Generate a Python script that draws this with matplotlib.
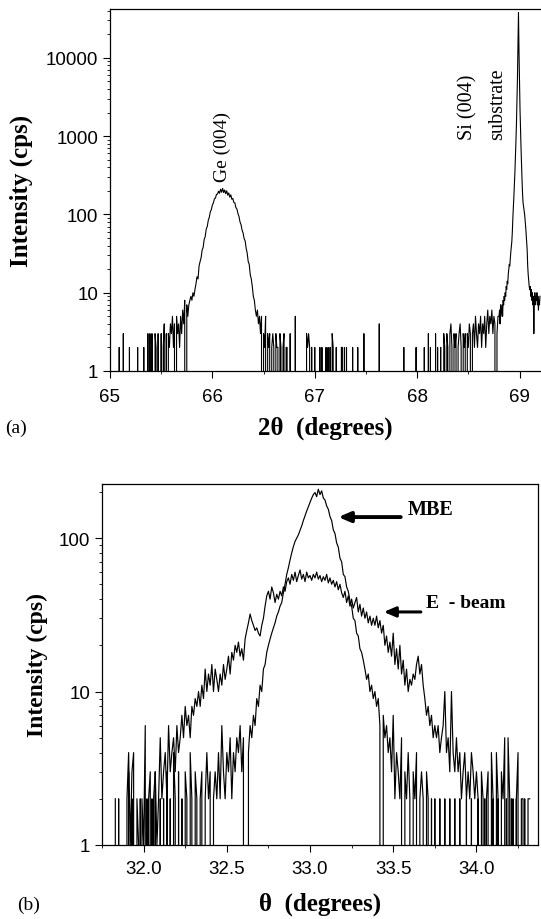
import numpy as np
import matplotlib
matplotlib.use("Agg")
import matplotlib.pyplot as plt
from matplotlib.ticker import LogLocator, NullFormatter, MultipleLocator

# ---------------- panel (a): 2theta scan, counts per step ----------------
a_start, a_step = 65.00, 0.01          # 65.00 ... 68.79
a_counts = [
    0, 0, 0, 0, 0, 0, 0, 0, 0, 2,            # 65.00
    0, 0, 0, 3, 0, 0, 0, 0, 0, 2,            # 65.10
    0, 0, 0, 0, 0, 0, 0, 2, 0, 0,            # 65.20
    0, 0, 0, 2, 0, 0, 0, 3, 0, 3,            # 65.30
    0, 3, 0, 0, 3, 2, 0, 3, 0, 0,            # 65.40
    3, 0, 2, 4, 0, 3, 0, 3, 2, 4,            # 65.50
    3, 5, 2, 4, 0, 5, 3, 4, 2, 5,            # 65.60
    3, 6, 4, 8, 0, 7, 5, 7, 8, 9,            # 65.70
    8, 10, 9, 11, 13, 16, 15, 22, 25, 28,    # 65.80
    35, 38, 48, 52, 65, 70, 84, 92, 108, 115,   # 65.90
    132, 140, 158, 162, 180, 182, 198, 186, 210, 192,  # 66.00
    215, 190, 205, 184, 200, 176, 188, 166, 178, 156,  # 66.10
    160, 142, 140, 122, 117, 102, 94, 80, 74, 63,      # 66.20
    58, 49, 46, 37, 32, 25, 23, 17, 15, 12,  # 66.30
    9, 8, 6, 5, 6, 4, 5, 3, 5, 0,            # 66.40
    3, 2, 5, 0, 3, 2, 3, 0, 2, 3,            # 66.50
    2, 0, 3, 2, 2, 0, 3, 2, 0, 2,            # 66.60
    3, 0, 2, 2, 0, 0, 3, 0, 0, 0,            # 66.70
    0, 5, 0, 0, 0, 0, 0, 0, 0, 0,            # 66.80
    0, 0, 3, 2, 3, 2, 0, 2, 0, 0,            # 66.90
    2, 0, 0, 0, 0, 2, 0, 2, 0, 0,            # 67.00
    0, 2, 0, 2, 0, 2, 0, 3, 2, 0,            # 67.10
    0, 2, 0, 0, 0, 0, 2, 2, 0, 2,            # 67.20
    0, 2, 0, 0, 0, 0, 0, 2, 0, 0,            # 67.30
    0, 0, 2, 0, 0, 0, 0, 0, 3, 0,            # 67.40
    0, 0, 0, 0, 0, 0, 0, 0, 0, 0,            # 67.50
    0, 0, 0, 4, 0, 0, 0, 0, 0, 0,            # 67.60
    0, 0, 0, 0, 0, 0, 0, 0, 0, 0,            # 67.70
    0, 0, 0, 0, 0, 0, 0, 2, 0, 0,            # 67.80
    0, 0, 0, 0, 0, 0, 0, 0, 0, 2,            # 67.90
    0, 0, 0, 0, 0, 0, 0, 2, 0, 0,            # 68.00
    0, 3, 0, 2, 0, 0, 0, 0, 3, 0,            # 68.10
    2, 0, 0, 2, 0, 0, 3, 2, 0, 3,            # 68.20
    2, 0, 3, 4, 2, 0, 3, 2, 3, 0,            # 68.30
    2, 3, 4, 2, 0, 3, 2, 3, 0, 3,            # 68.40
    2, 4, 3, 0, 3, 4, 2, 5, 3, 2,            # 68.50
    4, 3, 5, 2, 4, 3, 5, 2, 4, 6,            # 68.60
    3, 5, 4, 6, 3, 5, 4, 0, 3, 5,            # 68.70
]
# Si (004) substrate peak scanned with a finer step
si_start, si_step = 68.80, 0.005       # 68.800 ... 69.200
si_counts = [
    5, 6, 4, 7, 5, 6, 7, 5, 8, 7,                       # 68.800
    9, 8, 10, 9, 12, 11, 14, 13, 17, 20,                # 68.850
    23, 22, 27, 33, 38, 45, 60, 90, 120, 170,           # 68.900
    240, 340, 520, 850, 1400, 2600, 5500, 14000, 38000, 12000,  # 68.950
    5000, 2200, 1200, 700, 420, 270, 180, 140, 125, 110,        # 69.000
    100, 85, 70, 55, 45, 35, 22, 17, 14, 12,            # 69.050
    11, 12, 9, 11, 8, 10, 7, 9, 3, 8,                   # 69.100
    10, 7, 9, 8, 10, 7, 9, 6, 8, 7,                     # 69.150
    9,                                                  # 69.200
]

# ---------------- panel (b): theta scans ----------------
b_start, b_step = 31.83, 0.01          # 31.83 ... 34.32
ebeam_counts = [
    2, 0, 2, 0, 0, 0, 0, 2, 4, 1,
    3, 4, 0, 2, 1, 0, 2, 1, 6, 0,
    2, 3, 0, 2, 3, 1, 2, 5, 2, 3,
    4, 2, 6, 3, 4, 5, 3, 6, 4, 5,
    7, 5, 8, 6, 7, 5, 8, 7, 9, 8,
    10, 8, 11, 9, 14, 10, 13, 11, 15, 10,
    14, 12, 10, 13, 11, 15, 12, 14, 17, 13,
    18, 16, 20, 18, 21, 17, 19, 16, 22, 25,
    28, 32, 29, 27, 25, 26, 24, 23, 27, 30,
    36, 42, 45, 40, 48, 44, 38, 43, 40, 45,
    42, 48, 45, 52, 55, 50, 58, 53, 60, 52,
    57, 62, 54, 58, 52, 60, 55, 57, 53, 58,
    55, 60, 54, 57, 52, 56, 53, 58, 51, 55,
    50, 53, 48, 52, 46, 50, 44, 41, 45, 38,
    42, 36, 40, 35, 38, 41, 33, 37, 31, 35,
    30, 33, 28, 31, 27, 30, 27, 31, 26, 29,
    24, 27, 20, 23, 18, 21, 17, 24, 15, 19,
    14, 20, 13, 16, 11, 14, 10, 12, 11, 13,
    12, 15, 17, 13, 15, 11, 9, 7, 8, 6,
    7, 5, 6, 5, 6, 4, 5, 6, 10, 4,
    5, 3, 10, 4, 3, 5, 3, 4, 2, 3,
    4, 2, 3, 2, 4, 3, 2, 3, 2, 0,
    3, 2, 0, 2, 3, 0, 4, 2, 0, 4,
    2, 0, 3, 2, 5, 0, 5, 2, 0, 2,
    0, 2, 4, 0, 2, 2, 0, 0, 2, 2,
]
mbe_counts = [
    0, 0, 0, 0, 0, 0, 0, 0, 3, 0,
    2, 0, 0, 0, 0, 2, 0, 0, 0, 2,
    0, 0, 2, 0, 3, 0, 0, 2, 0, 2,
    0, 3, 0, 2, 0, 4, 2, 0, 3, 0,
    2, 0, 3, 2, 0, 4, 2, 0, 3, 2,
    0, 2, 3, 0, 2, 4, 2, 3, 0, 2,
    3, 2, 4, 2, 6, 3, 2, 4, 3, 5,
    2, 4, 3, 5, 4, 6, 3, 5, 0, 0,
    4, 6, 5, 7, 6, 9, 8, 11, 10, 14,
    15, 18, 20, 22, 24, 26, 28, 31, 33, 36,
    38, 44, 50, 58, 64, 72, 80, 88, 95, 100,
    105, 112, 120, 130, 140, 150, 160, 170, 182, 192,
    198, 186, 208, 192, 203, 182, 177, 162, 154, 138,
    130, 113, 107, 93, 87, 74, 70, 58, 56, 48,
    45, 39, 36, 30, 29, 24, 23, 19, 18, 16,
    14, 12, 13, 10, 11, 9, 10, 8, 9, 6,
    0, 7, 5, 6, 4, 5, 3, 7, 2, 4,
    3, 2, 5, 0, 3, 2, 4, 2, 0, 3,
    2, 4, 0, 2, 3, 2, 0, 3, 2, 0,
    2, 0, 2, 0, 0, 2, 0, 0, 2, 0,
    0, 2, 0, 0, 2, 0, 0, 2, 0, 0,
    0, 2, 0, 0, 2, 0, 0, 0, 2, 0,
    0, 0, 2, 0, 0, 0, 0, 2, 0, 0,
    2, 0, 0, 0, 0, 2, 0, 0, 2, 0,
    0, 2, 0, 0, 0, 0, 2, 0, 0, 0,
]

a_yticks = [1, 10, 100, 1000, 10000]
b_yticks = [1, 10, 100]

# scan positions
x_a = np.concatenate([a_start + a_step * np.arange(len(a_counts)),
                      si_start + si_step * np.arange(len(si_counts))])
y_a = np.array(a_counts + si_counts, dtype=float)
x_b = b_start + b_step * np.arange(len(ebeam_counts))

plt.rcParams["font.family"] = "Liberation Sans"
SERIF = "Liberation Serif"
W, H = 541, 920

fig = plt.figure(figsize=(W / 100, H / 100), dpi=100)
ax1 = fig.add_axes([110 / W, 1 - 372 / H, 431 / W, 362 / H])
ax2 = fig.add_axes([102 / W, 1 - 846 / H, 436 / W, 361 / H])


def style(ax, yticks, xpad):
    ax.set_yscale("log", nonpositive="clip")
    ax.set_yticks(yticks, labels=[str(v) for v in yticks])
    ax.yaxis.set_minor_locator(LogLocator(base=10, subs=np.arange(2, 10)))
    ax.yaxis.set_minor_formatter(NullFormatter())
    ax.tick_params(which="major", direction="out", length=5, width=0.8,
                   labelsize=13.5, top=False, right=False)
    ax.tick_params(which="minor", direction="out", length=2.5, width=0.6,
                   top=False, right=False)
    ax.tick_params(axis="x", which="major", pad=xpad)
    for s in ax.spines.values():
        s.set_linewidth(0.9)


# ---- (a) ----
ax1.plot(x_a, y_a, color="black", lw=0.8)
style(ax1, a_yticks, 7)
ax1.set_xlim(65, 69.21)
ax1.set_ylim(1, 42000)
ax1.xaxis.set_major_locator(MultipleLocator(1))
ax1.xaxis.set_minor_locator(MultipleLocator(0.5))
ax1.spines["right"].set_visible(False)
ax1.set_ylabel("Intensity (cps)", family=SERIF, fontweight="bold", fontsize=18)
ax1.yaxis.set_label_coords(-0.179, 0.5)
ax1.set_xlabel("2θ  (degrees)", family=SERIF, fontweight="bold", fontsize=18)
ax1.xaxis.set_label_coords(0.5, -0.122)
ax1.text(66.095, 267, "Ge (004)", rotation=90, ha="center", va="bottom",
         family=SERIF, fontsize=14)
ax1.text(68.50, 918, "Si (004)", rotation=90, ha="center", va="bottom",
         family=SERIF, fontsize=14.5)
ax1.text(68.79, 918, "substrate", rotation=90, ha="center", va="bottom",
         family=SERIF, fontsize=14.5)
fig.text(5 / W, 1 - 428 / H, "(a)", family=SERIF, fontsize=14, va="center")

# ---- (b) ----
ax2.plot(x_b, ebeam_counts, color="black", lw=0.85)
ax2.plot(x_b, mbe_counts, color="black", lw=0.85)
style(ax2, b_yticks, 5.5)
ax2.set_xlim(31.75, 34.37)
ax2.set_ylim(1, 225)
ax2.xaxis.set_major_locator(MultipleLocator(0.5))
ax2.xaxis.set_minor_locator(MultipleLocator(0.25))
ax2.xaxis.set_major_formatter(matplotlib.ticker.FormatStrFormatter("%.1f"))
ax2.set_ylabel("Intensity (cps)", family=SERIF, fontweight="bold", fontsize=17)
ax2.yaxis.set_label_coords(-0.124, 0.5)
ax2.set_xlabel("θ  (degrees)", family=SERIF, fontweight="bold", fontsize=18)
ax2.xaxis.set_label_coords(0.5, -0.128)

ax2.annotate("", xy=(33.17, 137), xytext=(33.545, 137),
             arrowprops=dict(arrowstyle="-|>,head_length=0.7,head_width=0.3",
                             color="black", lw=2.8, shrinkA=0, shrinkB=0))
ax2.text(33.587, 155, "MBE", family=SERIF, fontweight="bold", fontsize=14.5,
         ha="left", va="center")
ax2.annotate("", xy=(33.443, 33), xytext=(33.666, 33),
             arrowprops=dict(arrowstyle="-|>,head_length=0.7,head_width=0.3",
                             color="black", lw=2.2, shrinkA=0, shrinkB=0))
ax2.text(33.696, 38.3, "E  - beam", family=SERIF, fontweight="bold",
         fontsize=14, ha="left", va="center")
fig.text(17 / W, 1 - 905 / H, "(b)", family=SERIF, fontsize=14, va="center")

fig.savefig("out.png", dpi=100)
